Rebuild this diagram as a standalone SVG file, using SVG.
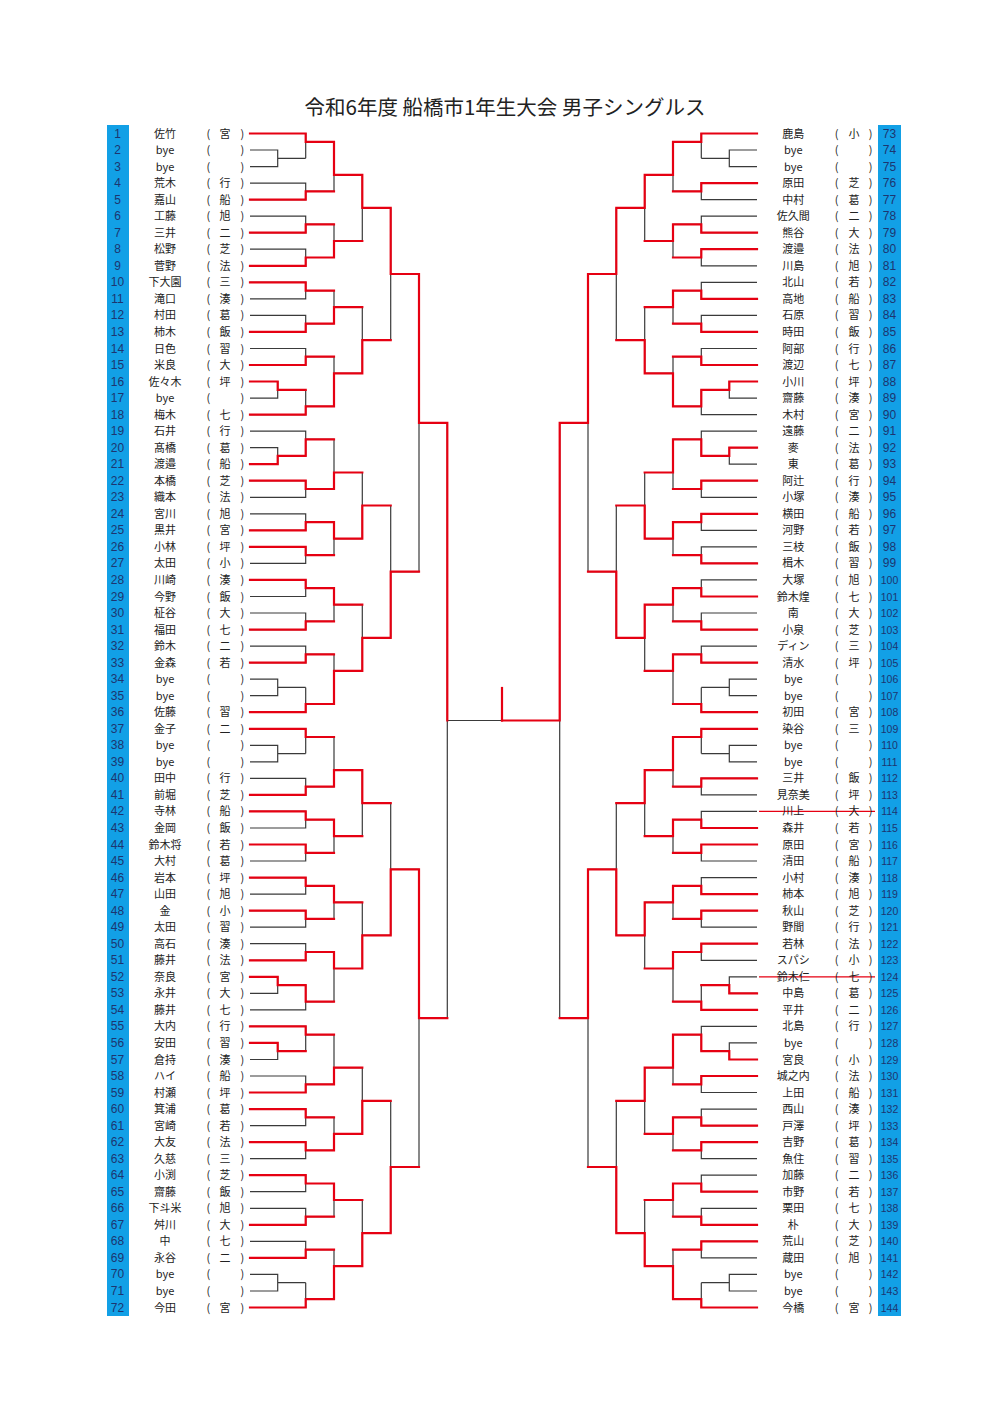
<svg xmlns="http://www.w3.org/2000/svg" xmlns:xlink="http://www.w3.org/1999/xlink" width="1000" height="1414" viewBox="0 0 1000 1414">
<style>
.bk{fill:none;stroke:#3a3a3a;stroke-width:1.2}
.rd{fill:none;stroke:#e60012;stroke-width:2.2;stroke-linecap:square}
.st{fill:none;stroke:#e60012;stroke-width:1.2}
.bar{fill:#12a0e6}
.no{font-family:"Liberation Sans",sans-serif;font-size:12px;fill:#1d3570;text-anchor:middle}
.s{font-size:10.5px}
.nm{font-family:"Noto Sans CJK JP",sans-serif;font-size:11px;fill:#222;text-anchor:middle}
.tt{font-family:"Noto Sans CJK JP",sans-serif;font-size:20.5px;fill:#222;text-anchor:middle}
</style>
<defs>
<path id="br" class="bk" d="M250 133.5H305.7V158.3M250 150H277.7V166.6H250M277.7 158.3H305.7M305.7 141.8H334M250 183.1H305.7V199.6H250M305.7 191.4H334M334 141.8V191.4M334 174.8H362.3M250 216.2H305.7V232.7H250M305.7 224.4H334M250 249.2H305.7V265.8H250M305.7 257.5H334M334 224.4V257.5M334 241H362.3M362.3 174.8V241M362.3 207.9H390.7
M250 282.3H305.7V298.9H250M305.7 290.6H334M250 315.4H305.7V331.9H250M305.7 323.7H334M334 290.6V323.7M334 307.1H362.3M250 348.5H305.7V365H250M305.7 356.7H334M250 381.5H277.7V398.1H250M277.7 389.8H305.7M250 414.6H305.7V389.8M305.7 406.3H334M334 356.7V406.3M334 373.3H362.3M362.3 307.1V373.3M362.3 340.2H390.7M390.7 207.9V340.2M390.7 274H419
M250 431.1H305.7V455.9M250 447.7H277.7V464.2H250M277.7 455.9H305.7M305.7 439.4H334M250 480.7H305.7V497.3H250M305.7 489H334M334 439.4V489M334 472.5H362.3M250 513.8H305.7V530.3H250M305.7 522.1H334M250 546.9H305.7V563.4H250M305.7 555.1H334M334 522.1V555.1M334 538.6H362.3M362.3 472.5V538.6M362.3 505.5H390.7
M250 579.9H305.7V596.5H250M305.7 588.2H334M250 613H305.7V629.6H250M305.7 621.3H334M334 588.2V621.3M334 604.7H362.3M250 646.1H305.7V662.6H250M305.7 654.4H334M250 679.2H277.7V695.7H250M277.7 687.4H305.7M250 712.2H305.7V687.4M305.7 704H334M334 654.4V704M334 670.9H362.3M362.3 604.7V670.9M362.3 637.8H390.7M390.7 505.5V637.8M390.7 571.7H419M419 274V571.7M419 422.9H447.3
M250 728.8H305.7V753.6M250 745.3H277.7V761.8H250M277.7 753.6H305.7M305.7 737H334M250 778.4H305.7V794.9H250M305.7 786.6H334M334 737V786.6M334 770.1H362.3M250 811.4H305.7V828H250M305.7 819.7H334M250 844.5H305.7V861H250M305.7 852.8H334M334 819.7V852.8M334 836.2H362.3M362.3 770.1V836.2M362.3 803.2H390.7
M250 877.6H305.7V894.1H250M305.7 885.8H334M250 910.6H305.7V927.2H250M305.7 918.9H334M334 885.8V918.9M334 902.4H362.3M250 943.7H305.7V960.3H250M305.7 952H334M250 976.8H277.7V993.3H250M277.7 985.1H305.7M250 1009.9H305.7V985.1M305.7 1001.6H334M334 952V1001.6M334 968.5H362.3M362.3 902.4V968.5M362.3 935.4H390.7M390.7 803.2V935.4M390.7 869.3H419
M250 1026.4H305.7V1051.2M250 1042.9H277.7V1059.5H250M277.7 1051.2H305.7M305.7 1034.7H334M250 1076H305.7V1092.5H250M305.7 1084.3H334M334 1034.7V1084.3M334 1067.7H362.3M250 1109.1H305.7V1125.6H250M305.7 1117.3H334M250 1142.1H305.7V1158.7H250M305.7 1150.4H334M334 1117.3V1150.4M334 1133.9H362.3M362.3 1067.7V1133.9M362.3 1100.8H390.7
M250 1175.2H305.7V1191.7H250M305.7 1183.5H334M250 1208.3H305.7V1224.8H250M305.7 1216.6H334M334 1183.5V1216.6M334 1200H362.3M250 1241.4H305.7V1257.9H250M305.7 1249.6H334M250 1274.4H277.7V1291H250M277.7 1282.7H305.7M250 1307.5H305.7V1282.7M305.7 1299.2H334M334 1249.6V1299.2M334 1266.2H362.3M362.3 1200V1266.2M362.3 1233.1H390.7M390.7 1100.8V1233.1M390.7 1167H419M419 869.3V1167M419 1018.1H447.3M447.3 422.9V1018.1"/>
</defs>
<rect width="1000" height="1414" fill="#fff"/>
<text class="tt" x="505" y="115">令和6年度 船橋市1年生大会 男子シングルス</text>
<rect class="bar" x="107" y="125" width="22" height="1191"/>
<rect class="bar" x="878" y="125" width="23" height="1191"/>
<g id="connectors">
<use xlink:href="#br"/>
<use xlink:href="#br" transform="matrix(-1 0 0 1 1007 0)"/>
<path class="bk" d="M447.3 720.5H502"/>
<path id="red-left" class="rd" d="M250 133.5H305.7V141.8H334M250 199.6H305.7V191.4H334M334 141.8V174.8H362.3M250 232.7H305.7V224.4H334M250 265.8H305.7V257.5H334M334 257.5V241H362.3M362.3 174.8V207.9H390.7M250 282.3H305.7V290.6H334M250 331.9H305.7V323.7H334M334 323.7V307.1H362.3M250 365H305.7V356.7H334M250 381.5H277.7V389.8H305.7M250 414.6H305.7V406.3H334M334 406.3V373.3H362.3M362.3 373.3V340.2H390.7M390.7 207.9V274H419M250 464.2H277.7V455.9H305.7M305.7 455.9V439.4H334M250 480.7H305.7V489H334M334 489V472.5H362.3M250 530.3H305.7V522.1H334M250 546.9H305.7V555.1H334M334 522.1V538.6H362.3M362.3 538.6V505.5H390.7M250 579.9H305.7V588.2H334M250 629.6H305.7V621.3H334M334 588.2V604.7H362.3M250 662.6H305.7V654.4H334M250 712.2H305.7V704H334M334 704V670.9H362.3M362.3 670.9V637.8H390.7M390.7 637.8V571.7H419M419 274V422.9H447.3M447.3 422.9V720.5M250 728.8H305.7V737H334M250 794.9H305.7V786.6H334M334 786.6V770.1H362.3M250 811.4H305.7V819.7H334M250 844.5H305.7V852.8H334M334 819.7V836.2H362.3M362.3 770.1V803.2H390.7M250 877.6H305.7V885.8H334M250 910.6H305.7V918.9H334M334 885.8V902.4H362.3M250 960.3H305.7V952H334M250 976.8H277.7V985.1H305.7M305.7 985.1V1001.6H334M334 952V968.5H362.3M362.3 968.5V935.4H390.7M390.7 935.4V869.3H419M250 1042.9H277.7V1051.2H305.7M250 1026.4H305.7V1034.7H334M250 1092.5H305.7V1084.3H334M334 1084.3V1067.7H362.3M250 1109.1H305.7V1117.3H334M250 1142.1H305.7V1150.4H334M334 1150.4V1133.9H362.3M362.3 1133.9V1100.8H390.7M250 1175.2H305.7V1183.5H334M250 1224.8H305.7V1216.6H334M334 1183.5V1200H362.3M250 1257.9H305.7V1249.6H334M250 1307.5H305.7V1299.2H334M334 1299.2V1266.2H362.3M362.3 1266.2V1233.1H390.7M390.7 1233.1V1167H419M419 869.3V1018.1H447.3"/>
<path id="red-right" class="rd" transform="matrix(-1 0 0 1 1007 0)" d="M250 133.5H305.7V141.8H334M250 183.1H305.7V191.4H334M334 141.8V174.8H362.3M250 232.7H305.7V224.4H334M250 249.2H305.7V257.5H334M334 224.4V241H362.3M362.3 174.8V207.9H390.7M250 298.9H305.7V290.6H334M250 331.9H305.7V323.7H334M334 290.6V307.1H362.3M250 365H305.7V356.7H334M250 381.5H277.7V389.8H305.7M305.7 389.8V406.3H334M334 406.3V373.3H362.3M362.3 373.3V340.2H390.7M390.7 207.9V274H419M250 447.7H277.7V455.9H305.7M305.7 455.9V439.4H334M250 480.7H305.7V489H334M334 439.4V472.5H362.3M250 513.8H305.7V522.1H334M250 563.4H305.7V555.1H334M334 522.1V538.6H362.3M362.3 538.6V505.5H390.7M250 596.5H305.7V588.2H334M250 629.6H305.7V621.3H334M334 588.2V604.7H362.3M250 662.6H305.7V654.4H334M250 712.2H305.7V704H334M334 654.4V670.9H362.3M362.3 604.7V637.8H390.7M390.7 637.8V571.7H419M419 274V422.9H447.3M447.3 422.9V720.5H505M250 728.8H305.7V737H334M250 778.4H305.7V786.6H334M334 737V770.1H362.3M250 828H305.7V819.7H334M250 844.5H305.7V852.8H334M334 819.7V836.2H362.3M362.3 770.1V803.2H390.7M250 894.1H305.7V885.8H334M250 910.6H305.7V918.9H334M334 885.8V902.4H362.3M250 943.7H305.7V952H334M250 993.3H277.7V985.1H305.7M250 1009.9H305.7V1001.6H334M334 952V968.5H362.3M362.3 902.4V935.4H390.7M390.7 935.4V869.3H419M250 1059.5H277.7V1051.2H305.7M305.7 1051.2V1034.7H334M250 1076H305.7V1084.3H334M334 1034.7V1067.7H362.3M250 1125.6H305.7V1117.3H334M250 1142.1H305.7V1150.4H334M334 1117.3V1133.9H362.3M362.3 1067.7V1100.8H390.7M250 1191.7H305.7V1183.5H334M250 1224.8H305.7V1216.6H334M334 1183.5V1200H362.3M250 1241.4H305.7V1249.6H334M250 1307.5H305.7V1299.2H334M334 1299.2V1266.2H362.3M362.3 1266.2V1233.1H390.7M390.7 1233.1V1167H419M419 869.3V1018.1H447.3"/>
<path class="rd" d="M502 688V720.5"/>
<path class="st" d="M759 811.4H875M759 976.8H875"/>
</g>
<g id="p1" transform="translate(0 137.5)"><text class="no" x="117.5">1</text><text class="nm" x="165">佐竹</text><text class="nm" x="208.3 225 242.3">(宮)</text></g>
<g id="p2" transform="translate(0 154)"><text class="no" x="117.5">2</text><text class="nm" x="165">bye</text><text class="nm" x="208.3 242.3">()</text></g>
<g id="p3" transform="translate(0 170.6)"><text class="no" x="117.5">3</text><text class="nm" x="165">bye</text><text class="nm" x="208.3 242.3">()</text></g>
<g id="p4" transform="translate(0 187.1)"><text class="no" x="117.5">4</text><text class="nm" x="165">荒木</text><text class="nm" x="208.3 225 242.3">(行)</text></g>
<g id="p5" transform="translate(0 203.6)"><text class="no" x="117.5">5</text><text class="nm" x="165">嘉山</text><text class="nm" x="208.3 225 242.3">(船)</text></g>
<g id="p6" transform="translate(0 220.2)"><text class="no" x="117.5">6</text><text class="nm" x="165">工藤</text><text class="nm" x="208.3 225 242.3">(旭)</text></g>
<g id="p7" transform="translate(0 236.7)"><text class="no" x="117.5">7</text><text class="nm" x="165">三井</text><text class="nm" x="208.3 225 242.3">(二)</text></g>
<g id="p8" transform="translate(0 253.2)"><text class="no" x="117.5">8</text><text class="nm" x="165">松野</text><text class="nm" x="208.3 225 242.3">(芝)</text></g>
<g id="p9" transform="translate(0 269.8)"><text class="no" x="117.5">9</text><text class="nm" x="165">菅野</text><text class="nm" x="208.3 225 242.3">(法)</text></g>
<g id="p10" transform="translate(0 286.3)"><text class="no" x="117.5">10</text><text class="nm" x="165">下大園</text><text class="nm" x="208.3 225 242.3">(三)</text></g>
<g id="p11" transform="translate(0 302.9)"><text class="no" x="117.5">11</text><text class="nm" x="165">滝口</text><text class="nm" x="208.3 225 242.3">(湊)</text></g>
<g id="p12" transform="translate(0 319.4)"><text class="no" x="117.5">12</text><text class="nm" x="165">村田</text><text class="nm" x="208.3 225 242.3">(葛)</text></g>
<g id="p13" transform="translate(0 335.9)"><text class="no" x="117.5">13</text><text class="nm" x="165">柿木</text><text class="nm" x="208.3 225 242.3">(飯)</text></g>
<g id="p14" transform="translate(0 352.5)"><text class="no" x="117.5">14</text><text class="nm" x="165">日色</text><text class="nm" x="208.3 225 242.3">(習)</text></g>
<g id="p15" transform="translate(0 369)"><text class="no" x="117.5">15</text><text class="nm" x="165">米良</text><text class="nm" x="208.3 225 242.3">(大)</text></g>
<g id="p16" transform="translate(0 385.5)"><text class="no" x="117.5">16</text><text class="nm" x="165">佐々木</text><text class="nm" x="208.3 225 242.3">(坪)</text></g>
<g id="p17" transform="translate(0 402.1)"><text class="no" x="117.5">17</text><text class="nm" x="165">bye</text><text class="nm" x="208.3 242.3">()</text></g>
<g id="p18" transform="translate(0 418.6)"><text class="no" x="117.5">18</text><text class="nm" x="165">梅木</text><text class="nm" x="208.3 225 242.3">(七)</text></g>
<g id="p19" transform="translate(0 435.1)"><text class="no" x="117.5">19</text><text class="nm" x="165">石井</text><text class="nm" x="208.3 225 242.3">(行)</text></g>
<g id="p20" transform="translate(0 451.7)"><text class="no" x="117.5">20</text><text class="nm" x="165">髙橋</text><text class="nm" x="208.3 225 242.3">(葛)</text></g>
<g id="p21" transform="translate(0 468.2)"><text class="no" x="117.5">21</text><text class="nm" x="165">渡邉</text><text class="nm" x="208.3 225 242.3">(船)</text></g>
<g id="p22" transform="translate(0 484.7)"><text class="no" x="117.5">22</text><text class="nm" x="165">本橋</text><text class="nm" x="208.3 225 242.3">(芝)</text></g>
<g id="p23" transform="translate(0 501.3)"><text class="no" x="117.5">23</text><text class="nm" x="165">織本</text><text class="nm" x="208.3 225 242.3">(法)</text></g>
<g id="p24" transform="translate(0 517.8)"><text class="no" x="117.5">24</text><text class="nm" x="165">宮川</text><text class="nm" x="208.3 225 242.3">(旭)</text></g>
<g id="p25" transform="translate(0 534.3)"><text class="no" x="117.5">25</text><text class="nm" x="165">黒井</text><text class="nm" x="208.3 225 242.3">(宮)</text></g>
<g id="p26" transform="translate(0 550.9)"><text class="no" x="117.5">26</text><text class="nm" x="165">小林</text><text class="nm" x="208.3 225 242.3">(坪)</text></g>
<g id="p27" transform="translate(0 567.4)"><text class="no" x="117.5">27</text><text class="nm" x="165">太田</text><text class="nm" x="208.3 225 242.3">(小)</text></g>
<g id="p28" transform="translate(0 583.9)"><text class="no" x="117.5">28</text><text class="nm" x="165">川崎</text><text class="nm" x="208.3 225 242.3">(湊)</text></g>
<g id="p29" transform="translate(0 600.5)"><text class="no" x="117.5">29</text><text class="nm" x="165">今野</text><text class="nm" x="208.3 225 242.3">(飯)</text></g>
<g id="p30" transform="translate(0 617)"><text class="no" x="117.5">30</text><text class="nm" x="165">柾谷</text><text class="nm" x="208.3 225 242.3">(大)</text></g>
<g id="p31" transform="translate(0 633.6)"><text class="no" x="117.5">31</text><text class="nm" x="165">福田</text><text class="nm" x="208.3 225 242.3">(七)</text></g>
<g id="p32" transform="translate(0 650.1)"><text class="no" x="117.5">32</text><text class="nm" x="165">鈴木</text><text class="nm" x="208.3 225 242.3">(二)</text></g>
<g id="p33" transform="translate(0 666.6)"><text class="no" x="117.5">33</text><text class="nm" x="165">金森</text><text class="nm" x="208.3 225 242.3">(若)</text></g>
<g id="p34" transform="translate(0 683.2)"><text class="no" x="117.5">34</text><text class="nm" x="165">bye</text><text class="nm" x="208.3 242.3">()</text></g>
<g id="p35" transform="translate(0 699.7)"><text class="no" x="117.5">35</text><text class="nm" x="165">bye</text><text class="nm" x="208.3 242.3">()</text></g>
<g id="p36" transform="translate(0 716.2)"><text class="no" x="117.5">36</text><text class="nm" x="165">佐藤</text><text class="nm" x="208.3 225 242.3">(習)</text></g>
<g id="p37" transform="translate(0 732.8)"><text class="no" x="117.5">37</text><text class="nm" x="165">金子</text><text class="nm" x="208.3 225 242.3">(二)</text></g>
<g id="p38" transform="translate(0 749.3)"><text class="no" x="117.5">38</text><text class="nm" x="165">bye</text><text class="nm" x="208.3 242.3">()</text></g>
<g id="p39" transform="translate(0 765.8)"><text class="no" x="117.5">39</text><text class="nm" x="165">bye</text><text class="nm" x="208.3 242.3">()</text></g>
<g id="p40" transform="translate(0 782.4)"><text class="no" x="117.5">40</text><text class="nm" x="165">田中</text><text class="nm" x="208.3 225 242.3">(行)</text></g>
<g id="p41" transform="translate(0 798.9)"><text class="no" x="117.5">41</text><text class="nm" x="165">前堀</text><text class="nm" x="208.3 225 242.3">(芝)</text></g>
<g id="p42" transform="translate(0 815.4)"><text class="no" x="117.5">42</text><text class="nm" x="165">寺林</text><text class="nm" x="208.3 225 242.3">(船)</text></g>
<g id="p43" transform="translate(0 832)"><text class="no" x="117.5">43</text><text class="nm" x="165">金岡</text><text class="nm" x="208.3 225 242.3">(飯)</text></g>
<g id="p44" transform="translate(0 848.5)"><text class="no" x="117.5">44</text><text class="nm" x="165">鈴木将</text><text class="nm" x="208.3 225 242.3">(若)</text></g>
<g id="p45" transform="translate(0 865)"><text class="no" x="117.5">45</text><text class="nm" x="165">大村</text><text class="nm" x="208.3 225 242.3">(葛)</text></g>
<g id="p46" transform="translate(0 881.6)"><text class="no" x="117.5">46</text><text class="nm" x="165">岩本</text><text class="nm" x="208.3 225 242.3">(坪)</text></g>
<g id="p47" transform="translate(0 898.1)"><text class="no" x="117.5">47</text><text class="nm" x="165">山田</text><text class="nm" x="208.3 225 242.3">(旭)</text></g>
<g id="p48" transform="translate(0 914.6)"><text class="no" x="117.5">48</text><text class="nm" x="165">金</text><text class="nm" x="208.3 225 242.3">(小)</text></g>
<g id="p49" transform="translate(0 931.2)"><text class="no" x="117.5">49</text><text class="nm" x="165">太田</text><text class="nm" x="208.3 225 242.3">(習)</text></g>
<g id="p50" transform="translate(0 947.7)"><text class="no" x="117.5">50</text><text class="nm" x="165">高石</text><text class="nm" x="208.3 225 242.3">(湊)</text></g>
<g id="p51" transform="translate(0 964.3)"><text class="no" x="117.5">51</text><text class="nm" x="165">藤井</text><text class="nm" x="208.3 225 242.3">(法)</text></g>
<g id="p52" transform="translate(0 980.8)"><text class="no" x="117.5">52</text><text class="nm" x="165">奈良</text><text class="nm" x="208.3 225 242.3">(宮)</text></g>
<g id="p53" transform="translate(0 997.3)"><text class="no" x="117.5">53</text><text class="nm" x="165">永井</text><text class="nm" x="208.3 225 242.3">(大)</text></g>
<g id="p54" transform="translate(0 1013.9)"><text class="no" x="117.5">54</text><text class="nm" x="165">藤井</text><text class="nm" x="208.3 225 242.3">(七)</text></g>
<g id="p55" transform="translate(0 1030.4)"><text class="no" x="117.5">55</text><text class="nm" x="165">大内</text><text class="nm" x="208.3 225 242.3">(行)</text></g>
<g id="p56" transform="translate(0 1046.9)"><text class="no" x="117.5">56</text><text class="nm" x="165">安田</text><text class="nm" x="208.3 225 242.3">(習)</text></g>
<g id="p57" transform="translate(0 1063.5)"><text class="no" x="117.5">57</text><text class="nm" x="165">倉持</text><text class="nm" x="208.3 225 242.3">(湊)</text></g>
<g id="p58" transform="translate(0 1080)"><text class="no" x="117.5">58</text><text class="nm" x="165">ハイ</text><text class="nm" x="208.3 225 242.3">(船)</text></g>
<g id="p59" transform="translate(0 1096.5)"><text class="no" x="117.5">59</text><text class="nm" x="165">村瀬</text><text class="nm" x="208.3 225 242.3">(坪)</text></g>
<g id="p60" transform="translate(0 1113.1)"><text class="no" x="117.5">60</text><text class="nm" x="165">箕浦</text><text class="nm" x="208.3 225 242.3">(葛)</text></g>
<g id="p61" transform="translate(0 1129.6)"><text class="no" x="117.5">61</text><text class="nm" x="165">宮崎</text><text class="nm" x="208.3 225 242.3">(若)</text></g>
<g id="p62" transform="translate(0 1146.1)"><text class="no" x="117.5">62</text><text class="nm" x="165">大友</text><text class="nm" x="208.3 225 242.3">(法)</text></g>
<g id="p63" transform="translate(0 1162.7)"><text class="no" x="117.5">63</text><text class="nm" x="165">久慈</text><text class="nm" x="208.3 225 242.3">(三)</text></g>
<g id="p64" transform="translate(0 1179.2)"><text class="no" x="117.5">64</text><text class="nm" x="165">小渕</text><text class="nm" x="208.3 225 242.3">(芝)</text></g>
<g id="p65" transform="translate(0 1195.7)"><text class="no" x="117.5">65</text><text class="nm" x="165">齋藤</text><text class="nm" x="208.3 225 242.3">(飯)</text></g>
<g id="p66" transform="translate(0 1212.3)"><text class="no" x="117.5">66</text><text class="nm" x="165">下斗米</text><text class="nm" x="208.3 225 242.3">(旭)</text></g>
<g id="p67" transform="translate(0 1228.8)"><text class="no" x="117.5">67</text><text class="nm" x="165">舛川</text><text class="nm" x="208.3 225 242.3">(大)</text></g>
<g id="p68" transform="translate(0 1245.4)"><text class="no" x="117.5">68</text><text class="nm" x="165">中</text><text class="nm" x="208.3 225 242.3">(七)</text></g>
<g id="p69" transform="translate(0 1261.9)"><text class="no" x="117.5">69</text><text class="nm" x="165">永谷</text><text class="nm" x="208.3 225 242.3">(二)</text></g>
<g id="p70" transform="translate(0 1278.4)"><text class="no" x="117.5">70</text><text class="nm" x="165">bye</text><text class="nm" x="208.3 242.3">()</text></g>
<g id="p71" transform="translate(0 1295)"><text class="no" x="117.5">71</text><text class="nm" x="165">bye</text><text class="nm" x="208.3 242.3">()</text></g>
<g id="p72" transform="translate(0 1311.5)"><text class="no" x="117.5">72</text><text class="nm" x="165">今田</text><text class="nm" x="208.3 225 242.3">(宮)</text></g>
<g id="p73" transform="translate(0 137.5)"><text class="no" x="889.5">73</text><text class="nm" x="793.3">鹿島</text><text class="nm" x="836.7 854 870.7">(小)</text></g>
<g id="p74" transform="translate(0 154)"><text class="no" x="889.5">74</text><text class="nm" x="793.3">bye</text><text class="nm" x="836.7 870.7">()</text></g>
<g id="p75" transform="translate(0 170.6)"><text class="no" x="889.5">75</text><text class="nm" x="793.3">bye</text><text class="nm" x="836.7 870.7">()</text></g>
<g id="p76" transform="translate(0 187.1)"><text class="no" x="889.5">76</text><text class="nm" x="793.3">原田</text><text class="nm" x="836.7 854 870.7">(芝)</text></g>
<g id="p77" transform="translate(0 203.6)"><text class="no" x="889.5">77</text><text class="nm" x="793.3">中村</text><text class="nm" x="836.7 854 870.7">(葛)</text></g>
<g id="p78" transform="translate(0 220.2)"><text class="no" x="889.5">78</text><text class="nm" x="793.3">佐久間</text><text class="nm" x="836.7 854 870.7">(二)</text></g>
<g id="p79" transform="translate(0 236.7)"><text class="no" x="889.5">79</text><text class="nm" x="793.3">熊谷</text><text class="nm" x="836.7 854 870.7">(大)</text></g>
<g id="p80" transform="translate(0 253.2)"><text class="no" x="889.5">80</text><text class="nm" x="793.3">渡邉</text><text class="nm" x="836.7 854 870.7">(法)</text></g>
<g id="p81" transform="translate(0 269.8)"><text class="no" x="889.5">81</text><text class="nm" x="793.3">川島</text><text class="nm" x="836.7 854 870.7">(旭)</text></g>
<g id="p82" transform="translate(0 286.3)"><text class="no" x="889.5">82</text><text class="nm" x="793.3">北山</text><text class="nm" x="836.7 854 870.7">(若)</text></g>
<g id="p83" transform="translate(0 302.9)"><text class="no" x="889.5">83</text><text class="nm" x="793.3">高地</text><text class="nm" x="836.7 854 870.7">(船)</text></g>
<g id="p84" transform="translate(0 319.4)"><text class="no" x="889.5">84</text><text class="nm" x="793.3">石原</text><text class="nm" x="836.7 854 870.7">(習)</text></g>
<g id="p85" transform="translate(0 335.9)"><text class="no" x="889.5">85</text><text class="nm" x="793.3">時田</text><text class="nm" x="836.7 854 870.7">(飯)</text></g>
<g id="p86" transform="translate(0 352.5)"><text class="no" x="889.5">86</text><text class="nm" x="793.3">阿部</text><text class="nm" x="836.7 854 870.7">(行)</text></g>
<g id="p87" transform="translate(0 369)"><text class="no" x="889.5">87</text><text class="nm" x="793.3">渡辺</text><text class="nm" x="836.7 854 870.7">(七)</text></g>
<g id="p88" transform="translate(0 385.5)"><text class="no" x="889.5">88</text><text class="nm" x="793.3">小川</text><text class="nm" x="836.7 854 870.7">(坪)</text></g>
<g id="p89" transform="translate(0 402.1)"><text class="no" x="889.5">89</text><text class="nm" x="793.3">齋藤</text><text class="nm" x="836.7 854 870.7">(湊)</text></g>
<g id="p90" transform="translate(0 418.6)"><text class="no" x="889.5">90</text><text class="nm" x="793.3">木村</text><text class="nm" x="836.7 854 870.7">(宮)</text></g>
<g id="p91" transform="translate(0 435.1)"><text class="no" x="889.5">91</text><text class="nm" x="793.3">遠藤</text><text class="nm" x="836.7 854 870.7">(二)</text></g>
<g id="p92" transform="translate(0 451.7)"><text class="no" x="889.5">92</text><text class="nm" x="793.3">麥</text><text class="nm" x="836.7 854 870.7">(法)</text></g>
<g id="p93" transform="translate(0 468.2)"><text class="no" x="889.5">93</text><text class="nm" x="793.3">東</text><text class="nm" x="836.7 854 870.7">(葛)</text></g>
<g id="p94" transform="translate(0 484.7)"><text class="no" x="889.5">94</text><text class="nm" x="793.3">阿辻</text><text class="nm" x="836.7 854 870.7">(行)</text></g>
<g id="p95" transform="translate(0 501.3)"><text class="no" x="889.5">95</text><text class="nm" x="793.3">小塚</text><text class="nm" x="836.7 854 870.7">(湊)</text></g>
<g id="p96" transform="translate(0 517.8)"><text class="no" x="889.5">96</text><text class="nm" x="793.3">横田</text><text class="nm" x="836.7 854 870.7">(船)</text></g>
<g id="p97" transform="translate(0 534.3)"><text class="no" x="889.5">97</text><text class="nm" x="793.3">河野</text><text class="nm" x="836.7 854 870.7">(若)</text></g>
<g id="p98" transform="translate(0 550.9)"><text class="no" x="889.5">98</text><text class="nm" x="793.3">三枝</text><text class="nm" x="836.7 854 870.7">(飯)</text></g>
<g id="p99" transform="translate(0 567.4)"><text class="no" x="889.5">99</text><text class="nm" x="793.3">楫木</text><text class="nm" x="836.7 854 870.7">(習)</text></g>
<g id="p100" transform="translate(0 583.9)"><text class="no s" x="889.5">100</text><text class="nm" x="793.3">大塚</text><text class="nm" x="836.7 854 870.7">(旭)</text></g>
<g id="p101" transform="translate(0 600.5)"><text class="no s" x="889.5">101</text><text class="nm" x="793.3">鈴木煌</text><text class="nm" x="836.7 854 870.7">(七)</text></g>
<g id="p102" transform="translate(0 617)"><text class="no s" x="889.5">102</text><text class="nm" x="793.3">南</text><text class="nm" x="836.7 854 870.7">(大)</text></g>
<g id="p103" transform="translate(0 633.6)"><text class="no s" x="889.5">103</text><text class="nm" x="793.3">小泉</text><text class="nm" x="836.7 854 870.7">(芝)</text></g>
<g id="p104" transform="translate(0 650.1)"><text class="no s" x="889.5">104</text><text class="nm" x="793.3">ディン</text><text class="nm" x="836.7 854 870.7">(三)</text></g>
<g id="p105" transform="translate(0 666.6)"><text class="no s" x="889.5">105</text><text class="nm" x="793.3">清水</text><text class="nm" x="836.7 854 870.7">(坪)</text></g>
<g id="p106" transform="translate(0 683.2)"><text class="no s" x="889.5">106</text><text class="nm" x="793.3">bye</text><text class="nm" x="836.7 870.7">()</text></g>
<g id="p107" transform="translate(0 699.7)"><text class="no s" x="889.5">107</text><text class="nm" x="793.3">bye</text><text class="nm" x="836.7 870.7">()</text></g>
<g id="p108" transform="translate(0 716.2)"><text class="no s" x="889.5">108</text><text class="nm" x="793.3">初田</text><text class="nm" x="836.7 854 870.7">(宮)</text></g>
<g id="p109" transform="translate(0 732.8)"><text class="no s" x="889.5">109</text><text class="nm" x="793.3">染谷</text><text class="nm" x="836.7 854 870.7">(三)</text></g>
<g id="p110" transform="translate(0 749.3)"><text class="no s" x="889.5">110</text><text class="nm" x="793.3">bye</text><text class="nm" x="836.7 870.7">()</text></g>
<g id="p111" transform="translate(0 765.8)"><text class="no s" x="889.5">111</text><text class="nm" x="793.3">bye</text><text class="nm" x="836.7 870.7">()</text></g>
<g id="p112" transform="translate(0 782.4)"><text class="no s" x="889.5">112</text><text class="nm" x="793.3">三井</text><text class="nm" x="836.7 854 870.7">(飯)</text></g>
<g id="p113" transform="translate(0 798.9)"><text class="no s" x="889.5">113</text><text class="nm" x="793.3">見奈美</text><text class="nm" x="836.7 854 870.7">(坪)</text></g>
<g id="p114" transform="translate(0 815.4)"><text class="no s" x="889.5">114</text><text class="nm" x="793.3">川上</text><text class="nm" x="836.7 854 870.7">(大)</text></g>
<g id="p115" transform="translate(0 832)"><text class="no s" x="889.5">115</text><text class="nm" x="793.3">森井</text><text class="nm" x="836.7 854 870.7">(若)</text></g>
<g id="p116" transform="translate(0 848.5)"><text class="no s" x="889.5">116</text><text class="nm" x="793.3">原田</text><text class="nm" x="836.7 854 870.7">(宮)</text></g>
<g id="p117" transform="translate(0 865)"><text class="no s" x="889.5">117</text><text class="nm" x="793.3">清田</text><text class="nm" x="836.7 854 870.7">(船)</text></g>
<g id="p118" transform="translate(0 881.6)"><text class="no s" x="889.5">118</text><text class="nm" x="793.3">小村</text><text class="nm" x="836.7 854 870.7">(湊)</text></g>
<g id="p119" transform="translate(0 898.1)"><text class="no s" x="889.5">119</text><text class="nm" x="793.3">柿本</text><text class="nm" x="836.7 854 870.7">(旭)</text></g>
<g id="p120" transform="translate(0 914.6)"><text class="no s" x="889.5">120</text><text class="nm" x="793.3">秋山</text><text class="nm" x="836.7 854 870.7">(芝)</text></g>
<g id="p121" transform="translate(0 931.2)"><text class="no s" x="889.5">121</text><text class="nm" x="793.3">野間</text><text class="nm" x="836.7 854 870.7">(行)</text></g>
<g id="p122" transform="translate(0 947.7)"><text class="no s" x="889.5">122</text><text class="nm" x="793.3">若林</text><text class="nm" x="836.7 854 870.7">(法)</text></g>
<g id="p123" transform="translate(0 964.3)"><text class="no s" x="889.5">123</text><text class="nm" x="793.3">スパシ</text><text class="nm" x="836.7 854 870.7">(小)</text></g>
<g id="p124" transform="translate(0 980.8)"><text class="no s" x="889.5">124</text><text class="nm" x="793.3">鈴木仁</text><text class="nm" x="836.7 854 870.7">(七)</text></g>
<g id="p125" transform="translate(0 997.3)"><text class="no s" x="889.5">125</text><text class="nm" x="793.3">中島</text><text class="nm" x="836.7 854 870.7">(葛)</text></g>
<g id="p126" transform="translate(0 1013.9)"><text class="no s" x="889.5">126</text><text class="nm" x="793.3">平井</text><text class="nm" x="836.7 854 870.7">(二)</text></g>
<g id="p127" transform="translate(0 1030.4)"><text class="no s" x="889.5">127</text><text class="nm" x="793.3">北島</text><text class="nm" x="836.7 854 870.7">(行)</text></g>
<g id="p128" transform="translate(0 1046.9)"><text class="no s" x="889.5">128</text><text class="nm" x="793.3">bye</text><text class="nm" x="836.7 870.7">()</text></g>
<g id="p129" transform="translate(0 1063.5)"><text class="no s" x="889.5">129</text><text class="nm" x="793.3">宮良</text><text class="nm" x="836.7 854 870.7">(小)</text></g>
<g id="p130" transform="translate(0 1080)"><text class="no s" x="889.5">130</text><text class="nm" x="793.3">城之内</text><text class="nm" x="836.7 854 870.7">(法)</text></g>
<g id="p131" transform="translate(0 1096.5)"><text class="no s" x="889.5">131</text><text class="nm" x="793.3">上田</text><text class="nm" x="836.7 854 870.7">(船)</text></g>
<g id="p132" transform="translate(0 1113.1)"><text class="no s" x="889.5">132</text><text class="nm" x="793.3">西山</text><text class="nm" x="836.7 854 870.7">(湊)</text></g>
<g id="p133" transform="translate(0 1129.6)"><text class="no s" x="889.5">133</text><text class="nm" x="793.3">戸澤</text><text class="nm" x="836.7 854 870.7">(坪)</text></g>
<g id="p134" transform="translate(0 1146.1)"><text class="no s" x="889.5">134</text><text class="nm" x="793.3">吉野</text><text class="nm" x="836.7 854 870.7">(葛)</text></g>
<g id="p135" transform="translate(0 1162.7)"><text class="no s" x="889.5">135</text><text class="nm" x="793.3">魚住</text><text class="nm" x="836.7 854 870.7">(習)</text></g>
<g id="p136" transform="translate(0 1179.2)"><text class="no s" x="889.5">136</text><text class="nm" x="793.3">加藤</text><text class="nm" x="836.7 854 870.7">(二)</text></g>
<g id="p137" transform="translate(0 1195.7)"><text class="no s" x="889.5">137</text><text class="nm" x="793.3">市野</text><text class="nm" x="836.7 854 870.7">(若)</text></g>
<g id="p138" transform="translate(0 1212.3)"><text class="no s" x="889.5">138</text><text class="nm" x="793.3">栗田</text><text class="nm" x="836.7 854 870.7">(七)</text></g>
<g id="p139" transform="translate(0 1228.8)"><text class="no s" x="889.5">139</text><text class="nm" x="793.3">朴</text><text class="nm" x="836.7 854 870.7">(大)</text></g>
<g id="p140" transform="translate(0 1245.4)"><text class="no s" x="889.5">140</text><text class="nm" x="793.3">荒山</text><text class="nm" x="836.7 854 870.7">(芝)</text></g>
<g id="p141" transform="translate(0 1261.9)"><text class="no s" x="889.5">141</text><text class="nm" x="793.3">蔵田</text><text class="nm" x="836.7 854 870.7">(旭)</text></g>
<g id="p142" transform="translate(0 1278.4)"><text class="no s" x="889.5">142</text><text class="nm" x="793.3">bye</text><text class="nm" x="836.7 870.7">()</text></g>
<g id="p143" transform="translate(0 1295)"><text class="no s" x="889.5">143</text><text class="nm" x="793.3">bye</text><text class="nm" x="836.7 870.7">()</text></g>
<g id="p144" transform="translate(0 1311.5)"><text class="no s" x="889.5">144</text><text class="nm" x="793.3">今橋</text><text class="nm" x="836.7 854 870.7">(宮)</text></g>
</svg>
